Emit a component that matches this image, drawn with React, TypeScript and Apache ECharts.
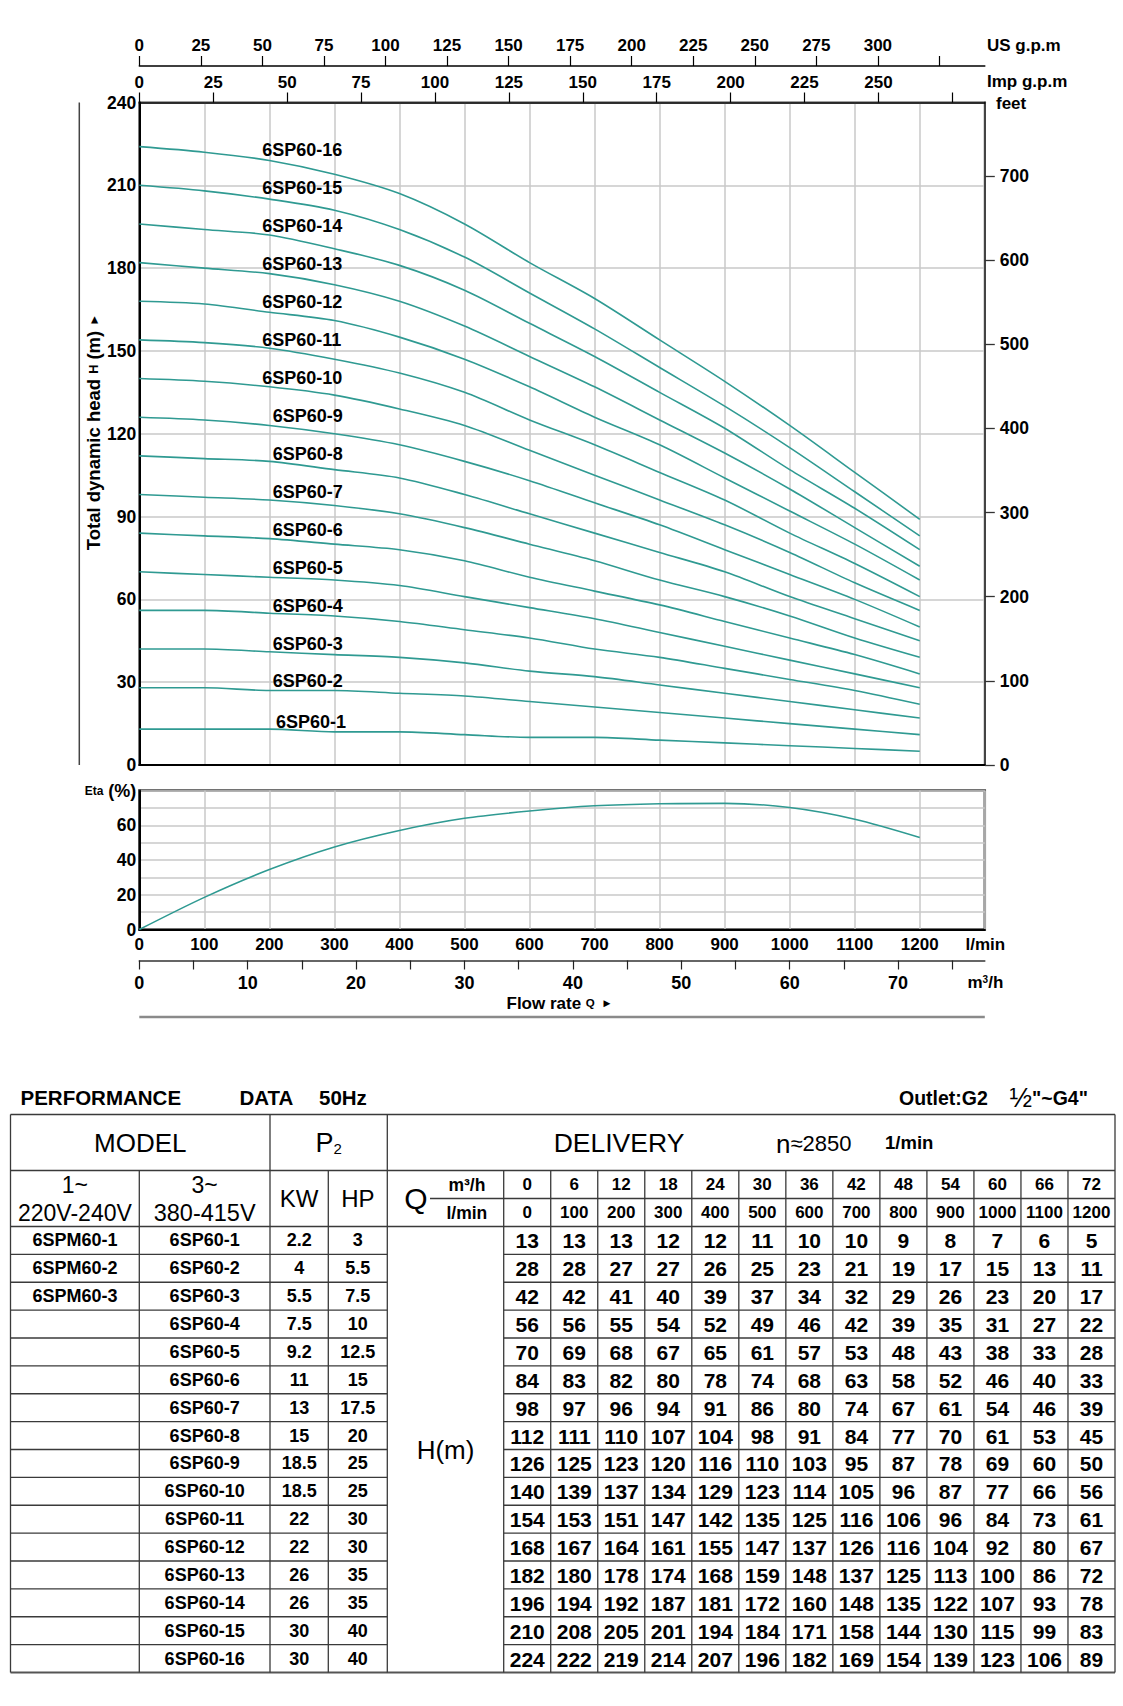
import React, { useEffect, useRef } from 'react';
import * as echarts from 'echarts';

// ---------------- DATA ----------------
const qM3h = [0, 6, 12, 18, 24, 30, 36, 42, 48, 54, 60, 66, 72];
const qLmin = [0, 100, 200, 300, 400, 500, 600, 700, 800, 900, 1000, 1100, 1200];
const models1 = ['6SPM60-1', '6SPM60-2', '6SPM60-3', '', '', '', '', '', '', '', '', '', '', '', '', ''];
const models3 = ['6SP60-1', '6SP60-2', '6SP60-3', '6SP60-4', '6SP60-5', '6SP60-6', '6SP60-7', '6SP60-8',
  '6SP60-9', '6SP60-10', '6SP60-11', '6SP60-12', '6SP60-13', '6SP60-14', '6SP60-15', '6SP60-16'];
const kw = ['2.2', '4', '5.5', '7.5', '9.2', '11', '13', '15', '18.5', '18.5', '22', '22', '26', '26', '30', '30'];
const hp = ['3', '5.5', '7.5', '10', '12.5', '15', '17.5', '20', '25', '25', '30', '30', '35', '35', '40', '40'];
const heads = [
  [13, 13, 13, 12, 12, 11, 10, 10, 9, 8, 7, 6, 5],
  [28, 28, 27, 27, 26, 25, 23, 21, 19, 17, 15, 13, 11],
  [42, 42, 41, 40, 39, 37, 34, 32, 29, 26, 23, 20, 17],
  [56, 56, 55, 54, 52, 49, 46, 42, 39, 35, 31, 27, 22],
  [70, 69, 68, 67, 65, 61, 57, 53, 48, 43, 38, 33, 28],
  [84, 83, 82, 80, 78, 74, 68, 63, 58, 52, 46, 40, 33],
  [98, 97, 96, 94, 91, 86, 80, 74, 67, 61, 54, 46, 39],
  [112, 111, 110, 107, 104, 98, 91, 84, 77, 70, 61, 53, 45],
  [126, 125, 123, 120, 116, 110, 103, 95, 87, 78, 69, 60, 50],
  [140, 139, 137, 134, 129, 123, 114, 105, 96, 87, 77, 66, 56],
  [154, 153, 151, 147, 142, 135, 125, 116, 106, 96, 84, 73, 61],
  [168, 167, 164, 161, 155, 147, 137, 126, 116, 104, 92, 80, 67],
  [182, 180, 178, 174, 168, 159, 148, 137, 125, 113, 100, 86, 72],
  [196, 194, 192, 187, 181, 172, 160, 148, 135, 122, 107, 93, 78],
  [210, 208, 205, 201, 194, 184, 171, 158, 144, 130, 115, 99, 83],
  [224, 222, 219, 214, 207, 196, 182, 169, 154, 139, 123, 106, 89],
];
const etaValues = [0, 18.5, 34.5, 47.5, 57, 64, 68.2, 71.2, 72.4, 72.6, 70.2, 63.5, 53];

const usTicks = [0, 25, 50, 75, 100, 125, 150, 175, 200, 225, 250, 275, 300, 325];
const usLabels = [0, 25, 50, 75, 100, 125, 150, 175, 200, 225, 250, 275, 300];
const impTicks = [0, 25, 50, 75, 100, 125, 150, 175, 200, 225, 250, 275];
const impLabels = [0, 25, 50, 75, 100, 125, 150, 175, 200, 225, 250];
const feetTicks = [0, 100, 200, 300, 400, 500, 600, 700];
const lminLabels = [0, 100, 200, 300, 400, 500, 600, 700, 800, 900, 1000, 1100, 1200];
const m3hTicks = [0, 5, 10, 15, 20, 25, 30, 35, 40, 45, 50, 55, 60, 65, 70, 75];
const m3hLabels = [0, 10, 20, 30, 40, 50, 60, 70];
const etaLabels = [0, 20, 40, 60, 80];

// ---------------- LAYOUT ----------------
const FONT = "'Liberation Sans', Arial, Helvetica, sans-serif";
const TEAL = '#2f9a92';
const GRIDC = '#c9c9c9';
const LEFT = 139.3;
const RIGHTX = 984.8;
const PW = RIGHTX - LEFT;
const G0T = 102.5, G0B = 765;
const G1T = 790.5, G1B = 929.5;
const QMAX = 1300;

const txt = (x: number, y: number, text: string, size: number, weight: any = 'bold', align: any = 'center', extra: any = {}) => ({
  type: 'text', x, y, silent: true,
  style: { text, fill: '#000', fontSize: size, fontWeight: weight, fontFamily: FONT, align, verticalAlign: 'middle', ...extra },
});
const ln = (x1: number, y1: number, x2: number, y2: number, stroke = '#3a3a3a', w = 1.3) => ({
  type: 'line', silent: true, shape: { x1, y1, x2, y2 }, style: { stroke, lineWidth: w },
});
const plain = (v: number) => String(v);

function buildTable() {
  const L = 10.5, c1 = 139.3, c2 = 270, c3 = 328.3, c4 = 387.3, qs = 430, c5 = 503.7, R = 1115;
  const top = 1114.5, r1 = 1170.5, split = 1198.5, hdr = 1226.5, bottom = 1672.5;
  const rowH = (bottom - hdr) / models3.length;
  const colW = (R - c5) / qM3h.length;
  const els: any[] = [];
  // title line
  els.push(txt(20.5, 1097.5, 'PERFORMANCE', 20.5, 'bold', 'left'));
  els.push(txt(239.5, 1097.5, 'DATA', 20.5, 'bold', 'left'));
  els.push(txt(319, 1097.5, '50Hz', 20.5, 'bold', 'left'));
  els.push({
    type: 'text', x: 899, y: 1097.5, silent: true,
    style: {
      text: '{a|Outlet:G2}{g|    }{f|½}{a|"~G4"}', fontFamily: FONT, verticalAlign: 'middle', align: 'left',
      rich: {
        a: { fontSize: 19.5, fontWeight: 'bold', fill: '#000', fontFamily: FONT },
        g: { fontSize: 19.5, fontFamily: FONT },
        f: { fontSize: 27, fill: '#000', fontFamily: FONT },
      },
    },
  });
  // horizontal lines
  els.push(ln(L, top, R, top));
  els.push(ln(L, r1, R, r1));
  els.push(ln(qs, split, R, split));
  els.push(ln(L, hdr, R, hdr));
  for (let i = 1; i < models3.length; i++) {
    const y = hdr + i * rowH;
    els.push(ln(L, y, c4, y));
    els.push(ln(c5, y, R, y));
  }
  els.push(ln(L, bottom, R, bottom, '#555', 2));
  // vertical lines
  els.push(ln(L, top, L, bottom));
  els.push(ln(R, top, R, bottom));
  els.push(ln(c2, top, c2, bottom));
  els.push(ln(c4, top, c4, bottom));
  els.push(ln(c1, r1, c1, bottom));
  els.push(ln(c3, r1, c3, bottom));
  for (let k = 0; k < qM3h.length; k++) {
    const x = c5 + k * colW;
    els.push(ln(x, r1, x, bottom));
  }
  // header row 1
  const yr1 = (top + r1) / 2;
  els.push(txt((L + c2) / 2, yr1, 'MODEL', 26, 'normal'));
  els.push({
    type: 'text', x: (c2 + c4) / 2, y: yr1, silent: true,
    style: {
      text: '{p|P}{s|2}', align: 'center', verticalAlign: 'middle',
      rich: {
        p: { fontSize: 27, fill: '#000', fontFamily: FONT },
        s: { fontSize: 15, fill: '#000', fontFamily: FONT, verticalAlign: 'bottom', padding: [6, 0, 0, 0] },
      },
    },
  });
  els.push(txt(619, yr1, 'DELIVERY', 26.5, 'normal'));
  els.push({
    type: 'text', x: 776, y: yr1 + 1, silent: true,
    style: {
      text: '{n|n}{t|≈2850}', align: 'left', verticalAlign: 'middle',
      rich: {
        n: { fontSize: 26, fill: '#000', fontFamily: FONT },
        t: { fontSize: 22, fill: '#000', fontFamily: FONT },
      },
    },
  });
  els.push(txt(885, yr1, '1/min', 18.5, 'bold', 'left'));
  // header rows 2/3
  const ya = 1184.5, yb = 1212.5, ym = (r1 + hdr) / 2;
  els.push(txt((L + c1) / 2, ya, '1~', 23, 'normal'));
  els.push(txt((L + c1) / 2, yb, '220V-240V', 23, 'normal'));
  els.push(txt((c1 + c2) / 2, ya, '3~', 23, 'normal'));
  els.push(txt((c1 + c2) / 2, yb, '380-415V', 23.5, 'normal'));
  els.push(txt((c2 + c3) / 2, ym, 'KW', 24, 'normal'));
  els.push(txt((c3 + c4) / 2, ym, 'HP', 24, 'normal'));
  els.push(txt(416, ym, 'Q', 30, 'normal'));
  els.push(txt((qs + c5) / 2, ya, 'm³/h', 17.5, 'bold'));
  els.push(txt((qs + c5) / 2, yb, 'l/min', 17.5, 'bold'));
  for (let k = 0; k < qM3h.length; k++) {
    const x = c5 + (k + 0.5) * colW;
    els.push(txt(x, ya, String(qM3h[k]), 17, 'bold'));
    els.push(txt(x, yb, String(qLmin[k]), 17, 'bold'));
  }
  // data rows
  for (let i = 0; i < models3.length; i++) {
    const y = hdr + (i + 0.5) * rowH;
    if (models1[i]) els.push(txt((L + c1) / 2, y, models1[i], 18, 'bold'));
    els.push(txt((c1 + c2) / 2, y, models3[i], 18, 'bold'));
    els.push(txt((c2 + c3) / 2, y, kw[i], 18, 'bold'));
    els.push(txt((c3 + c4) / 2, y, hp[i], 18, 'bold'));
    for (let k = 0; k < qM3h.length; k++) {
      els.push(txt(c5 + (k + 0.5) * colW, y + 0.5, String(heads[i][k]), 21, 'bold'));
    }
  }
  els.push(txt((c4 + c5) / 2, (hdr + bottom) / 2, 'H(m)', 26, 'normal'));
  return els;
}

function buildOption() {
  const labelStyle = { color: '#000', fontSize: 17.5, fontWeight: 'bold', fontFamily: FONT };
  const curveSeries = heads.map((row, i) => ({
    type: 'line', name: models3[i], xAxisIndex: 0, yAxisIndex: 0,
    data: qLmin.map((q, j) => [q, row[j]]),
    smooth: 0.3, symbol: 'none', silent: true, z: 3,
    lineStyle: { color: TEAL, width: 1.6 },
  }));
  const labelSeries = {
    type: 'scatter', xAxisIndex: 0, yAxisIndex: 0, silent: true, z: 4,
    symbolSize: 0.1, itemStyle: { color: 'transparent', opacity: 1 },
    data: models3.map((m, i) => ({
      name: m,
      value: [i === 0 ? 210 : i < 9 ? 205 : 189, heads[i][0] + 2.5 - 0.25 * i],
    })),
    label: {
      show: true, position: 'right', distance: 0, formatter: '{b}', opacity: 1,
      color: '#000', fontSize: 18, fontWeight: 'bold', fontFamily: FONT,
    },
  };
  const etaSeries = {
    type: 'line', xAxisIndex: 3, yAxisIndex: 2, silent: true,
    data: qLmin.map((q, j) => [q, etaValues[j]]),
    smooth: 0.3, symbol: 'none', lineStyle: { color: TEAL, width: 1.6 },
  };

  const graphic: any[] = [
    ln(79.3, G0T, 79.3, G0B, '#444', 1.5),
    {
      type: 'text', x: 93.5, y: 432, rotation: Math.PI / 2, silent: true,
      style: {
        text: '{a|Total dynamic head }{h|H}{a| (m) }{r|►}', align: 'center', verticalAlign: 'middle',
        rich: {
          a: { fontSize: 18.5, fontWeight: 'bold', fill: '#000', fontFamily: FONT },
          h: { fontSize: 12.5, fontWeight: 'bold', fill: '#000', fontFamily: FONT },
          r: { fontSize: 12, fill: '#000', fontFamily: FONT },
        },
      },
    },
    txt(987, 45, 'US g.p.m', 17, 'bold', 'left'),
    txt(987, 81.5, 'Imp g.p.m', 17, 'bold', 'left'),
    txt(996, 103.5, 'feet', 17, 'bold', 'left'),
    txt(965.5, 944.5, 'l/min', 17, 'bold', 'left'),
    {
      type: 'text', x: 967.5, y: 982.7, silent: true,
      style: {
        text: '{a|m}{s|3}{a|/h}', align: 'left', verticalAlign: 'middle',
        rich: {
          a: { fontSize: 17, fontWeight: 'bold', fill: '#000', fontFamily: FONT },
          s: { fontSize: 10, fontWeight: 'bold', fill: '#000', fontFamily: FONT, verticalAlign: 'top' },
        },
      },
    },
    {
      type: 'text', x: 506.5, y: 1003, silent: true,
      style: {
        text: '{a|Flow rate }{q|Q}{q|  ►}', align: 'left', verticalAlign: 'middle',
        rich: {
          a: { fontSize: 17, fontWeight: 'bold', fill: '#000', fontFamily: FONT },
          q: { fontSize: 11.5, fontWeight: 'bold', fill: '#000', fontFamily: FONT },
        },
      },
    },
    ln(LEFT, 1017, RIGHTX, 1017, '#8a8a8a', 2.5),
    ...buildTable(),
  ];

  return {
    animation: false,
    backgroundColor: '#fff',
    textStyle: { fontFamily: FONT },
    grid: [
      { left: LEFT, top: G0T, width: PW, height: G0B - G0T, show: true, borderColor: '#444', borderWidth: 2, backgroundColor: 'transparent', containLabel: false, outerBoundsMode: 'none' },
      { left: LEFT, top: G1T, width: PW, height: G1B - G1T, show: true, borderColor: '#444', borderWidth: 2.5, backgroundColor: 'transparent', containLabel: false, outerBoundsMode: 'none' },
    ],
    xAxis: [
      {
        type: 'value', gridIndex: 0, min: 0, max: QMAX, interval: 100, position: 'bottom',
        axisLine: { show: true, onZero: false, lineStyle: { color: '#000', width: 2 } },
        axisTick: { show: false }, axisLabel: { show: false },
        splitLine: { show: true, lineStyle: { color: GRIDC, width: 1.5 } },
      },
      {
        type: 'value', gridIndex: 0, min: 0, max: QMAX / 4.54609, position: 'top',
        axisLine: { show: true, onZero: false, lineStyle: { color: '#000', width: 1.5 } },
        axisTick: { show: true, customValues: impTicks, length: 10, lineStyle: { color: '#000', width: 1.2 } },
        axisLabel: { ...labelStyle, fontSize: 17, margin: 12, customValues: impLabels, formatter: plain },
        splitLine: { show: false },
      },
      {
        type: 'value', gridIndex: 0, min: 0, max: QMAX / 3.785411784, position: 'top', offset: 36.5,
        axisLine: { show: true, onZero: false, lineStyle: { color: '#000', width: 1.5 } },
        axisTick: { show: true, customValues: usTicks, length: 10, lineStyle: { color: '#000', width: 1.2 } },
        axisLabel: { ...labelStyle, fontSize: 17, margin: 12, customValues: usLabels, formatter: plain },
        splitLine: { show: false },
      },
      {
        type: 'value', gridIndex: 1, min: 0, max: QMAX, interval: 100, position: 'bottom',
        axisLine: { show: true, onZero: false, lineStyle: { color: '#000', width: 2 } },
        axisTick: { show: false },
        axisLabel: { ...labelStyle, fontSize: 17, margin: 6.5, customValues: lminLabels, formatter: plain },
        splitLine: { show: true, lineStyle: { color: GRIDC, width: 1.5 } },
      },
      {
        type: 'value', gridIndex: 1, min: 0, max: QMAX * 0.06, position: 'bottom', offset: 31,
        axisLine: { show: true, onZero: false, lineStyle: { color: '#333', width: 1.5 } },
        axisTick: { show: true, customValues: m3hTicks, length: 9, lineStyle: { color: '#222', width: 1.2 } },
        axisLabel: { ...labelStyle, fontSize: 18, margin: 13, customValues: m3hLabels, formatter: plain },
        splitLine: { show: false },
      },
    ],
    yAxis: [
      {
        type: 'value', gridIndex: 0, min: 0, max: 240, interval: 30, position: 'left',
        axisLine: { show: true, onZero: false, lineStyle: { color: '#000', width: 2 } },
        axisTick: { show: false },
        axisLabel: { ...labelStyle, margin: 3, formatter: plain },
        splitLine: { show: true, lineStyle: { color: GRIDC, width: 1.5 } },
      },
      {
        type: 'value', gridIndex: 0, min: 0, max: 240 * 3.28084, position: 'right',
        axisLine: { show: true, onZero: false, lineStyle: { color: '#444', width: 2 } },
        axisTick: { show: true, customValues: feetTicks, length: 10, lineStyle: { color: '#333', width: 1.3 } },
        axisLabel: { ...labelStyle, margin: 15, customValues: feetTicks, formatter: plain },
        splitLine: { show: false },
      },
      {
        type: 'value', gridIndex: 1, min: 0, max: 80, interval: 10, position: 'left',
        axisLine: { show: true, onZero: false, lineStyle: { color: '#000', width: 2 } },
        axisTick: { show: false },
        axisLabel: {
          ...labelStyle, margin: 3, customValues: etaLabels,
          formatter: (v: number) => (v === 80 ? '{s|Eta} {b|(%)}' : String(v)),
          rich: {
            s: { fontSize: 12, fontWeight: 'bold', color: '#000', fontFamily: FONT },
            b: { fontSize: 18, fontWeight: 'bold', color: '#000', fontFamily: FONT },
          },
        },
        splitLine: { show: true, lineStyle: { color: GRIDC, width: 1.5 } },
      },
    ],
    series: [...curveSeries, labelSeries, etaSeries],
    graphic,
  };
}

export default function App() {
  const ref = useRef<HTMLDivElement>(null);
  useEffect(() => {
    document.body.style.margin = '0';
    if (!ref.current) return;
    const chart = echarts.init(ref.current, undefined, { renderer: 'svg' });
    chart.setOption(buildOption() as any);
    return () => chart.dispose();
  }, []);
  return (
    <div
      ref={ref}
      style={{ position: 'absolute', left: 0, top: 0, width: 1123, height: 1706, background: '#fff' }}
    />
  );
}
